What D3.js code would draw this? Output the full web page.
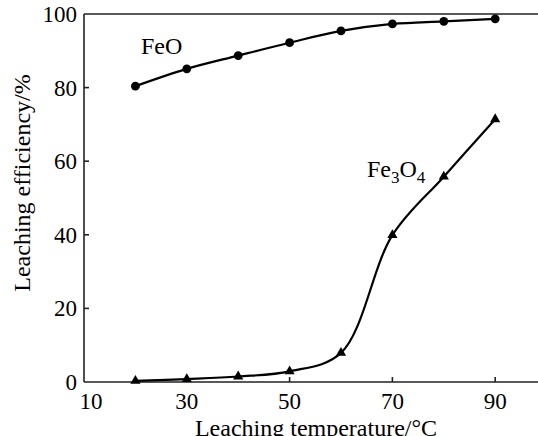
<!DOCTYPE html>
<html>
<head>
<meta charset="utf-8">
<script src="https://cdn.jsdelivr.net/npm/d3@7"></script>
<style>
  body { margin: 0; background: #fff; }
  svg { display: block; }
</style>
</head>
<body>
<div id="chart"></div>
<script>
// Leaching efficiency vs temperature for FeO and Fe3O4
const width = 538;
const height = 436;

// data
const temperatures = [20, 30, 40, 50, 60, 70, 80, 90];
const feoValues = [80.4, 85.1, 88.7, 92.2, 95.4, 97.3, 98.0, 98.7];
const fe3o4Values = [0.3, 0.8, 1.5, 2.9, 7.9, 39.9, 55.8, 71.4];
const xTicks = [10, 30, 50, 70, 90];
const yTicks = [0, 20, 40, 60, 80, 100];

const font = '"Liberation Serif", "Times New Roman", serif';
const ink = '#000';

const x = d3.scaleLinear().domain([10, 100]).range([84, 84 + 90 * 5.14]);
const y = d3.scaleLinear().domain([0, 100]).range([382, 14]);

const svg = d3.select('#chart')
    .append('svg')
    .attr('width', width)
    .attr('height', height);

// frame: left, bottom and top lines (right side runs off the picture)
const frame = svg.append('g')
    .attr('stroke', '#222')
    .attr('stroke-width', 1.6)
    .attr('fill', 'none');

frame.append('line')
    .attr('x1', x(10)).attr('x2', x(10))
    .attr('y1', y(0)).attr('y2', y(100));
frame.append('line')
    .attr('x1', x(10)).attr('x2', x(100))
    .attr('y1', y(0)).attr('y2', y(0));
frame.append('line')
    .attr('x1', x(10)).attr('x2', x(100))
    .attr('y1', y(100)).attr('y2', y(100));

// inward ticks
xTicks.slice(1).forEach(t => {
    frame.append('line')
        .attr('x1', x(t)).attr('x2', x(t))
        .attr('y1', y(0)).attr('y2', y(0) - 5);
});
yTicks.slice(1, -1).forEach(t => {
    frame.append('line')
        .attr('x1', x(10)).attr('x2', x(10) + 5)
        .attr('y1', y(t)).attr('y2', y(t));
});

// tick labels
xTicks.forEach(t => {
    svg.append('text')
        .attr('x', t === 10 ? x(t) + 7 : x(t))
        .attr('y', 409)
        .attr('text-anchor', 'middle')
        .attr('font-family', font)
        .attr('font-size', '23px')
        .attr('fill', ink)
        .text(t);
});
yTicks.forEach(t => {
    svg.append('text')
        .attr('x', 77)
        .attr('y', y(t))
        .attr('dy', '0.35em')
        .attr('text-anchor', 'end')
        .attr('font-family', font)
        .attr('font-size', '23px')
        .attr('fill', ink)
        .text(t);
});

// axis titles
svg.append('text')
    .attr('x', 316)
    .attr('y', 436)
    .attr('text-anchor', 'middle')
    .attr('font-family', font)
    .attr('font-size', '24px')
    .attr('fill', ink)
    .text('Leaching temperature/°C');

svg.append('text')
    .attr('transform', 'translate(30, 183) rotate(-90)')
    .attr('text-anchor', 'middle')
    .attr('font-family', font)
    .attr('font-size', '24px')
    .attr('fill', ink)
    .text('Leaching efficiency/%');

// curves
const line = d3.line()
    .x(d => x(d[0]))
    .y(d => y(d[1]))
    .curve(d3.curveCatmullRom.alpha(0.5));

const feo = temperatures.map((t, i) => [t, feoValues[i]]);
const fe3o4 = temperatures.map((t, i) => [t, fe3o4Values[i]]);

svg.append('path')
    .attr('d', line(feo))
    .attr('fill', 'none')
    .attr('stroke', ink)
    .attr('stroke-width', 2.2);

svg.append('path')
    .attr('d', line(fe3o4))
    .attr('fill', 'none')
    .attr('stroke', ink)
    .attr('stroke-width', 2.2);

// markers
svg.selectAll('.dot')
    .data(feo)
    .enter()
    .append('circle')
    .attr('cx', d => x(d[0]))
    .attr('cy', d => y(d[1]))
    .attr('r', 4.4)
    .attr('fill', ink);

const tri = d3.symbol().type(d3.symbolTriangle).size(45);
svg.selectAll('.tri')
    .data(fe3o4)
    .enter()
    .append('path')
    .attr('d', tri)
    .attr('transform', d => `translate(${x(d[0])}, ${y(d[1])})`)
    .attr('fill', ink);

// series labels
svg.append('text')
    .attr('x', 141)
    .attr('y', 54)
    .attr('font-family', font)
    .attr('font-size', '24px')
    .attr('fill', ink)
    .text('FeO');

const fe3Label = svg.append('text')
    .attr('x', 367)
    .attr('y', 177)
    .attr('font-family', font)
    .attr('font-size', '24px')
    .attr('fill', ink);
fe3Label.append('tspan').text('Fe');
fe3Label.append('tspan').attr('font-size', '17px').attr('dy', 6).text('3');
fe3Label.append('tspan').attr('dy', -6).text('O');
fe3Label.append('tspan').attr('font-size', '17px').attr('dy', 6).text('4');
</script>
</body>
</html>
